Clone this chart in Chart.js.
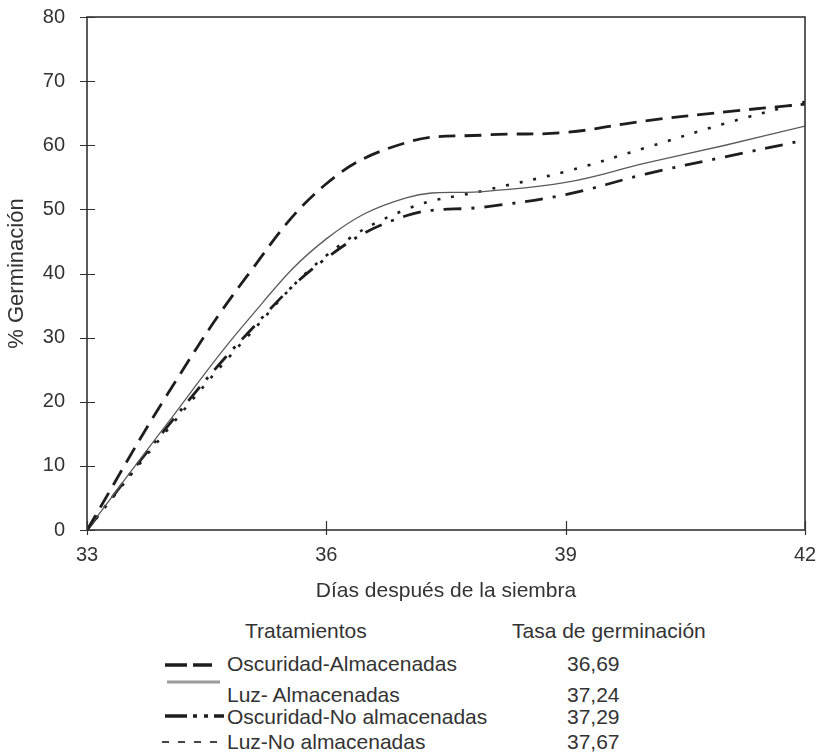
<!DOCTYPE html>
<html>
<head>
<meta charset="UTF-8">
<title>Germinación</title>
<style>
    body { margin: 0; background: #fff; color: #333;
           font-family: "Liberation Sans", Arial, sans-serif; }
    #wrap { position: relative; width: 820px; height: 754px; }
    #chart-box { position: absolute; left: 0; top: 0; width: 820px; height: 604px; }
    .lg { position: absolute; font-size: 21px; line-height: 24px; white-space: nowrap; }
    .sample { position: absolute; }
</style>
<script src="https://cdn.jsdelivr.net/npm/chart.js@4.4.0/dist/chart.umd.min.js"></script>
</head>
<body>
<div id="wrap">
    <div id="chart-box"><canvas id="germ-chart"></canvas></div>
    <div id="legend"></div>
</div>
<script>
    // datos
    var days = [33, 34, 35, 36, 37, 38, 39, 40, 41, 42];
    var oscAlm = [0, 21, 39.5, 54, 60.4, 61.6, 62, 63.8, 65.2, 66.4];
    var luzAlm = [0, 16.5, 32.5, 45.4, 51.8, 52.8, 54.2, 57.2, 60, 63];
    var oscNoAlm = [0, 16, 30.5, 42.4, 49, 50.4, 52.3, 55.5, 58.2, 60.8];
    var luzNoAlm = [0, 15.5, 30, 42.8, 50, 53, 55.9, 59.6, 63.4, 66.8];
    var treatments = ['Oscuridad-Almacenadas', 'Luz- Almacenadas', 'Oscuridad-No almacenadas', 'Luz-No almacenadas'];
    var rates = ['36,69', '37,24', '37,29', '37,67'];
    var xTicks = [33, 36, 39, 42];

    var fontFam = '"Liberation Sans", Arial, sans-serif';
    var textColor = '#333';

    // estilos de línea (gráfico y leyenda)
    var lineStyles = [
        { color: '#1e1e1e', width: 2.8, dash: [17, 9], legend: { dash: '22 6', color: '#1e1e1e', width: 3.5 } },
        { color: '#5a5a5a', width: 1.3, dash: [], legend: { dash: '', color: '#9a9a9a', width: 3 } },
        { color: '#1e1e1e', width: 2.8, dash: [18, 10, 3, 10], legend: { dash: '22 6 4 7 4 6 10 40', color: '#1e1e1e', width: 3.5 } },
        { color: '#1e1e1e', width: 2.6, dash: [3, 11], legend: { dash: '7 9', color: '#444', width: 2 } }
    ];
    var series = [oscAlm, luzAlm, oscNoAlm, luzNoAlm];

    var datasets = series.map(function (vals, i) {
        return {
            label: treatments[i],
            data: days.map(function (d, j) { return { x: d, y: vals[j] }; }),
            borderColor: lineStyles[i].color,
            borderWidth: lineStyles[i].width,
            borderDash: lineStyles[i].dash,
            pointRadius: 0,
            tension: 0.4,
            fill: false
        };
    });

    // marco y marcas de los ejes
    var framePlugin = {
        id: 'frame',
        afterDatasetsDraw: function (chart) {
            var ctx = chart.ctx, a = chart.chartArea;
            var x = chart.scales.x, y = chart.scales.y;
            ctx.save();
            ctx.strokeStyle = '#333';
            ctx.lineWidth = 1.6;
            ctx.strokeRect(a.left, a.top, a.right - a.left, a.bottom - a.top);
            ctx.lineWidth = 1.2;
            ctx.beginPath();
            y.ticks.forEach(function (t) {
                var py = Math.round(y.getPixelForValue(t.value)) + 0.5;
                ctx.moveTo(a.left - 7, py);
                ctx.lineTo(a.left + 8, py);
            });
            x.ticks.forEach(function (t) {
                var px = Math.round(x.getPixelForValue(t.value)) + 0.5;
                ctx.moveTo(px, a.bottom - 9);
                ctx.lineTo(px, a.bottom + 5);
            });
            ctx.stroke();
            ctx.restore();
        }
    };

    new Chart(document.getElementById('germ-chart'), {
        type: 'line',
        data: { datasets: datasets },
        options: {
            responsive: true,
            maintainAspectRatio: false,
            animation: false,
            layout: { padding: { top: 17, right: 15, left: 0, bottom: 0 } },
            plugins: { legend: { display: false }, tooltip: { enabled: false } },
            scales: {
                x: {
                    type: 'linear', min: 33, max: 42,
                    afterBuildTicks: function (s) { s.ticks = xTicks.map(function (v) { return { value: v }; }); },
                    afterFit: function (s) { s.height = 74; s.paddingLeft = 0; s.paddingRight = 0; },
                    grid: { display: false, drawTicks: false },
                    border: { display: false },
                    ticks: { padding: 13, color: textColor, font: { family: fontFam, size: 20 } },
                    title: { display: true, text: 'Días después de la siembra', color: textColor,
                             font: { family: fontFam, size: 21 }, padding: { top: 0, bottom: 0 } }
                },
                y: {
                    min: 0, max: 80,
                    afterFit: function (s) { s.width = 87; s.paddingTop = 0; s.paddingBottom = 0; },
                    grid: { display: false, drawTicks: false },
                    border: { display: false },
                    ticks: { stepSize: 10, padding: 22, color: textColor, font: { family: fontFam, size: 20 } },
                    title: { display: true, text: '% Germinación', color: textColor,
                             font: { family: fontFam, size: 22 }, padding: { top: 4, bottom: 0 } }
                }
            }
        },
        plugins: [framePlugin]
    });

    // leyenda en forma de tabla
    var legend = document.getElementById('legend');
    function addText(txt, left, centerY) {
        var d = document.createElement('div');
        d.className = 'lg';
        d.style.left = left + 'px';
        d.style.top = (centerY - 12) + 'px';
        d.textContent = txt;
        legend.appendChild(d);
    }
    function addSample(st, x1, x2, yLine) {
        var ns = 'http://www.w3.org/2000/svg';
        var svg = document.createElementNS(ns, 'svg');
        svg.setAttribute('class', 'sample');
        svg.setAttribute('width', x2 - x1);
        svg.setAttribute('height', 8);
        svg.style.left = x1 + 'px';
        svg.style.top = (yLine - 4) + 'px';
        var ln = document.createElementNS(ns, 'line');
        ln.setAttribute('x1', 0); ln.setAttribute('x2', x2 - x1);
        ln.setAttribute('y1', 4); ln.setAttribute('y2', 4);
        ln.setAttribute('stroke', st.color);
        ln.setAttribute('stroke-width', st.width);
        if (st.dash) ln.setAttribute('stroke-dasharray', st.dash);
        svg.appendChild(ln);
        legend.appendChild(svg);
    }

    addText('Tratamientos', 245, 631);
    addText('Tasa de germinación', 512, 631);
    var rowY = [664, 695, 717, 742];
    var sampleY = [665, 682, 716, 742];
    var sampleX = [[165, 212], [167, 220], [165, 225], [162, 225]];
    treatments.forEach(function (name, i) {
        addSample(lineStyles[i].legend, sampleX[i][0], sampleX[i][1], sampleY[i]);
        addText(name, 227, rowY[i]);
        addText(rates[i], 567, rowY[i]);
    });
</script>
</body>
</html>
